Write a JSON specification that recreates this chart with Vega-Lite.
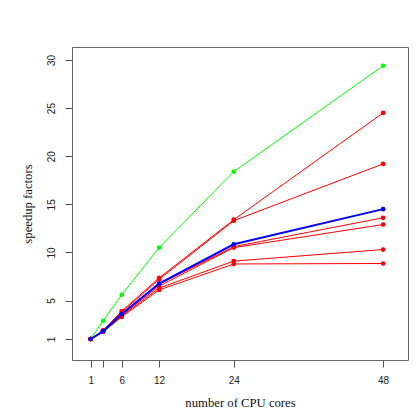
{
  "$schema": "https://vega.github.io/schema/vega-lite/v6.json",
  "width": 336,
  "height": 313,
  "autosize": {"type": "none"},
  "padding": {"left": 72, "top": 47, "right": 12, "bottom": 60},
  "background": "white",
  "config": {
    "view": {"stroke": "#666", "strokeWidth": 1},
    "axis": {"grid": false, "domain": false, "tickColor": "#555", "tickSize": 7, "labelFont": "Liberation Sans", "labelFontSize": 10, "labelColor": "#222", "titleFont": "Liberation Serif", "titleFontSize": 12.7, "titleFontWeight": "normal", "titleColor": "#111"}
  },
  "data": {"values": [
    {"s": "g", "kind": "green", "cores": 1, "speedup": 1},
    {"s": "g", "kind": "green", "cores": 3, "speedup": 2.9},
    {"s": "g", "kind": "green", "cores": 6, "speedup": 5.6},
    {"s": "g", "kind": "green", "cores": 12, "speedup": 10.5},
    {"s": "g", "kind": "green", "cores": 24, "speedup": 18.4},
    {"s": "g", "kind": "green", "cores": 48, "speedup": 29.4},
    {"s": "r1", "kind": "red", "cores": 1, "speedup": 1},
    {"s": "r1", "kind": "red", "cores": 3, "speedup": 1.9},
    {"s": "r1", "kind": "red", "cores": 6, "speedup": 3.9},
    {"s": "r1", "kind": "red", "cores": 12, "speedup": 7.35},
    {"s": "r1", "kind": "red", "cores": 24, "speedup": 13.4},
    {"s": "r1", "kind": "red", "cores": 48, "speedup": 24.5},
    {"s": "r2", "kind": "red", "cores": 1, "speedup": 1},
    {"s": "r2", "kind": "red", "cores": 3, "speedup": 1.85},
    {"s": "r2", "kind": "red", "cores": 6, "speedup": 3.8},
    {"s": "r2", "kind": "red", "cores": 12, "speedup": 7.2},
    {"s": "r2", "kind": "red", "cores": 24, "speedup": 13.3},
    {"s": "r2", "kind": "red", "cores": 48, "speedup": 19.2},
    {"s": "r3", "kind": "red", "cores": 1, "speedup": 1},
    {"s": "r3", "kind": "red", "cores": 3, "speedup": 1.85},
    {"s": "r3", "kind": "red", "cores": 6, "speedup": 3.7},
    {"s": "r3", "kind": "red", "cores": 12, "speedup": 6.7},
    {"s": "r3", "kind": "red", "cores": 24, "speedup": 10.6},
    {"s": "r3", "kind": "red", "cores": 48, "speedup": 13.6},
    {"s": "r4", "kind": "red", "cores": 1, "speedup": 1},
    {"s": "r4", "kind": "red", "cores": 3, "speedup": 1.8},
    {"s": "r4", "kind": "red", "cores": 6, "speedup": 3.5},
    {"s": "r4", "kind": "red", "cores": 12, "speedup": 6.5},
    {"s": "r4", "kind": "red", "cores": 24, "speedup": 10.5},
    {"s": "r4", "kind": "red", "cores": 48, "speedup": 12.9},
    {"s": "r5", "kind": "red", "cores": 1, "speedup": 1},
    {"s": "r5", "kind": "red", "cores": 3, "speedup": 1.75},
    {"s": "r5", "kind": "red", "cores": 6, "speedup": 3.4},
    {"s": "r5", "kind": "red", "cores": 12, "speedup": 6.3},
    {"s": "r5", "kind": "red", "cores": 24, "speedup": 9.1},
    {"s": "r5", "kind": "red", "cores": 48, "speedup": 10.3},
    {"s": "r6", "kind": "red", "cores": 1, "speedup": 1},
    {"s": "r6", "kind": "red", "cores": 3, "speedup": 1.75},
    {"s": "r6", "kind": "red", "cores": 6, "speedup": 3.3},
    {"s": "r6", "kind": "red", "cores": 12, "speedup": 6.1},
    {"s": "r6", "kind": "red", "cores": 24, "speedup": 8.8},
    {"s": "r6", "kind": "red", "cores": 48, "speedup": 8.85},
    {"s": "b", "kind": "blue", "cores": 1, "speedup": 1},
    {"s": "b", "kind": "blue", "cores": 3, "speedup": 1.8},
    {"s": "b", "kind": "blue", "cores": 6, "speedup": 3.6},
    {"s": "b", "kind": "blue", "cores": 12, "speedup": 6.75},
    {"s": "b", "kind": "blue", "cores": 24, "speedup": 10.85},
    {"s": "b", "kind": "blue", "cores": 48, "speedup": 14.5}
  ]},
  "encoding": {
    "x": {"field": "cores", "type": "quantitative", "scale": {"domain": [-2, 52], "nice": false, "zero": false},
      "axis": {"values": [1, 3, 6, 12, 24, 48], "labelExpr": "datum.value == 3 ? '' : datum.label", "labelPadding": 8, "title": "number of CPU cores", "titlePadding": 11, "labelFlush": false}},
    "y": {"field": "speedup", "type": "quantitative", "scale": {"domain": [-1.18, 31.35], "nice": false, "zero": false},
      "axis": {"values": [1, 5, 10, 15, 20, 25, 30], "labelAngle": -90, "labelAlign": "center", "labelBaseline": "bottom", "labelPadding": 9, "title": "speedup factors", "titlePadding": 12, "labelFlush": false}},
    "color": {"field": "kind", "type": "nominal", "scale": {"domain": ["green", "red", "blue"], "range": ["#00ff00", "#ff0000", "#0000ff"]}, "legend": null},
    "detail": {"field": "s", "type": "nominal"}
  },
  "layer": [
    {"mark": {"type": "line", "strokeWidth": 1}, "transform": [{"filter": "datum.kind != 'blue'"}]},
    {"mark": {"type": "point", "filled": true, "opacity": 1, "size": 22}, "transform": [{"filter": "datum.kind != 'blue'"}]},
    {"mark": {"type": "line", "strokeWidth": 2}, "transform": [{"filter": "datum.kind == 'blue'"}]},
    {"mark": {"type": "point", "filled": true, "opacity": 1, "size": 22}, "transform": [{"filter": "datum.kind == 'blue'"}]}
  ]
}
